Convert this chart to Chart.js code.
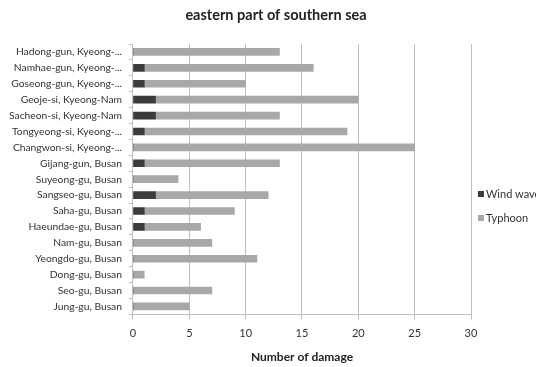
<!DOCTYPE html>
<html>
<head>
<meta charset="utf-8">
<script src="https://cdn.jsdelivr.net/npm/chart.js@4"></script>
<style>
  html, body { margin: 0; padding: 0; background: #fff; overflow: hidden; }
</style>
</head>
<body>
<canvas id="myChart" width="536" height="367"></canvas>
<script>
const regions = [
  "Hadong-gun, Kyeong-...",
  "Namhae-gun, Kyeong-...",
  "Goseong-gun, Kyeong-...",
  "Geoje-si, Kyeong-Nam",
  "Sacheon-si, Kyeong-Nam",
  "Tongyeong-si, Kyeong-...",
  "Changwon-si, Kyeong-...",
  "Gijang-gun, Busan",
  "Suyeong-gu, Busan",
  "Sangseo-gu, Busan",
  "Saha-gu, Busan",
  "Haeundae-gu, Busan",
  "Nam-gu, Busan",
  "Yeongdo-gu, Busan",
  "Dong-gu, Busan",
  "Seo-gu, Busan",
  "Jung-gu, Busan"
];
const windWave = [0, 1, 1, 2, 2, 1, 0, 1, 0, 2, 1, 1, 0, 0, 0, 0, 0];
const typhoon  = [13, 15, 9, 18, 11, 18, 25, 12, 4, 10, 8, 5, 7, 11, 1, 7, 5];
const seriesNames = ["Wind wave", "Typhoon"];
const seriesColors = ["#3b3b3b", "#a8a8a8"];
const chartTitle = "eastern part of southern sea";

const fontFam = "Lato, 'Open Sans', sans-serif";

// title centred on the whole picture, legend right of the plot
const extras = {
  id: "extras",
  afterDraw(chart) {
    const ctx = chart.ctx;
    ctx.save();
    ctx.font = "bold 14.5px " + fontFam;
    ctx.fillStyle = "#222";
    ctx.textAlign = "center";
    ctx.textBaseline = "middle";
    ctx.fillText(chartTitle, 276, 15);

    const x = chart.chartArea.right + 7;
    const ys = [194, 218];
    ctx.font = "11px " + fontFam;
    ctx.textAlign = "left";
    seriesNames.forEach((name, i) => {
      ctx.fillStyle = seriesColors[i];
      ctx.fillRect(x, ys[i] - 3, 6, 6);
      ctx.fillStyle = "#333";
      ctx.fillText(name, x + 8, ys[i]);
    });
    ctx.restore();
  }
};

const ctx = document.getElementById("myChart");
let myChart = new Chart(ctx, {
  type: "bar",
  data: {
    labels: regions,
    datasets: [
      { label: seriesNames[0], data: windWave, backgroundColor: seriesColors[0] },
      { label: seriesNames[1], data: typhoon, backgroundColor: seriesColors[1] }
    ]
  },
  options: {
    indexAxis: "y",
    responsive: false,
    animation: false,
    datasets: { bar: { barThickness: 7 } },
    layout: { padding: { left: 2, right: 65, top: 44, bottom: 3 } },
    plugins: {
      legend: { display: false },
      tooltip: { enabled: false },
      title: { display: false }
    },
    scales: {
      x: {
        stacked: true,
        min: 0,
        max: 30,
        ticks: { stepSize: 5, color: "#333", font: { family: fontFam, size: 11 }, padding: 7 },
        grid: { color: "#bfbfbf", tickLength: 5, tickColor: "#bfbfbf" },
        border: { color: "#bfbfbf" },
        title: {
          display: true,
          text: "Number of damage",
          color: "#222",
          font: { family: fontFam, size: 12, weight: "bold" },
          padding: { top: 3, bottom: 0 }
        }
      },
      y: {
        stacked: true,
        ticks: { color: "#333", font: { family: fontFam, size: 10.3 }, padding: 7, autoSkip: false },
        grid: { drawOnChartArea: false, tickLength: 4, tickColor: "#bfbfbf", offset: true },
        border: { color: "#bfbfbf" }
      }
    }
  },
  plugins: [extras]
});
</script>
</body>
</html>
